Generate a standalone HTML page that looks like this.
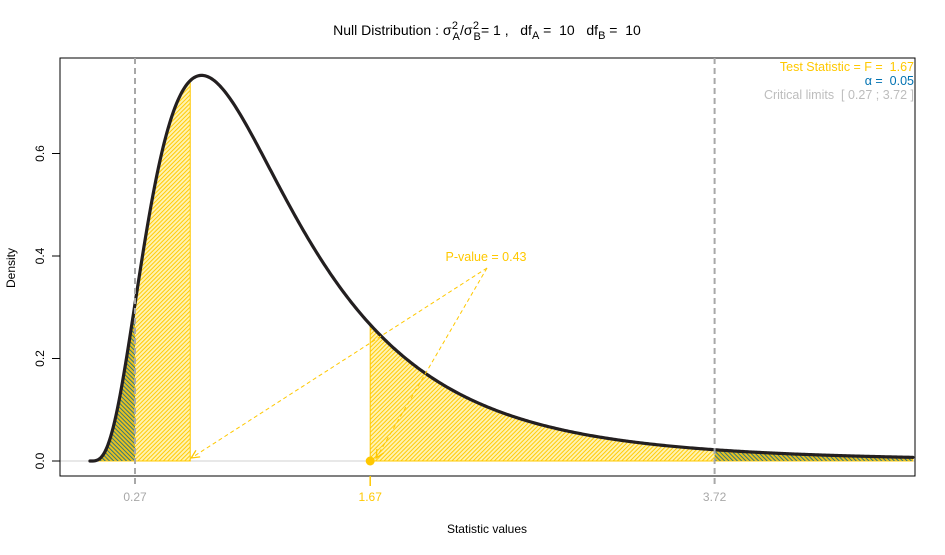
<!DOCTYPE html>
<html><head><meta charset="utf-8">
<style>
body{margin:0;background:#fff;}
svg{font-family:"Liberation Sans",Arial,sans-serif;}
text{white-space:pre;}
</style></head>
<body>
<svg id="chart" width="945" height="550" xml:space="preserve">
<defs>
<pattern id="hatchY" width="3" height="3" patternUnits="userSpaceOnUse" patternTransform="rotate(45)">
<rect width="3" height="3" fill="#fff3b0"/>
<line x1="0" y1="0" x2="0" y2="3" stroke="#ffc800" stroke-width="1.9"/>
</pattern>
<pattern id="hatchG" width="3" height="3" patternUnits="userSpaceOnUse" patternTransform="rotate(-45)">
<rect width="3" height="3" fill="#e8c020"/>
<line x1="0" y1="0" x2="0" y2="3" stroke="#1a6f8a" stroke-width="1.8"/>
</pattern>
<clipPath id="plotclip"><rect x="60" y="58" width="855" height="418"/></clipPath>
</defs>
<text x="487" y="35" font-size="14" text-anchor="middle">Null Distribution : σ<tspan dx="1" dy="5" font-size="11">A</tspan><tspan dx="-8" dy="-11" font-size="11">2</tspan><tspan dx="2" dy="6">/σ</tspan><tspan dx="1" dy="5" font-size="11">B</tspan><tspan dx="-8" dy="-11" font-size="11">2</tspan><tspan dx="2" dy="6">= 1 ,   df</tspan><tspan dy="4" font-size="11">A</tspan><tspan dy="-4"> =  10   df</tspan><tspan dy="4" font-size="11">B</tspan><tspan dy="-4"> =  10</tspan></text>
<g id="plot" clip-path="url(#plotclip)"></g>
<rect x="60" y="58" width="855" height="418" fill="none" stroke="#000" stroke-width="1"/>
<g id="axes"></g>
<text x="487" y="533" font-size="12" text-anchor="middle">Statistic values</text>
<text x="15" y="268" font-size="12" text-anchor="middle" transform="rotate(-90 15 268)">Density</text>
<text x="914" y="71" font-size="12.5" text-anchor="end" fill="#ffc800">Test Statistic = F =  1.67</text>
<text x="914" y="85" font-size="12.5" text-anchor="end" fill="#0072b2">α =  0.05</text>
<text x="914" y="99" font-size="12.5" text-anchor="end" fill="#bdbdbd">Critical limits  [ 0.27 ; 3.72 ]</text>
</svg>
<script>
const dfA = 10;
const dfB = 10;
const testStat = [1.67];
const critLimits = [0.27, 3.72];
const pValue = [0.43];
const yTicks = [0.0, 0.2, 0.4, 0.6];
const yTickLabels = ["0.0", "0.2", "0.4", "0.6"];
const xRange = [0.002, 4.9];

const NS = "http://www.w3.org/2000/svg";
const sx = v => 135 + (v - 0.27) * 168;
const sy = d => 461 - d * 512.5;
function lgamma(z){
  const g=7,c=[0.99999999999980993,676.5203681218851,-1259.1392167224028,771.32342877765313,-176.61502916214059,12.507343278686905,-0.13857109526572012,9.9843695780195716e-6,1.5056327351493116e-7];
  z-=1;let x=c[0];for(let i=1;i<g+2;i++)x+=c[i]/(z+i);const t=z+g+0.5;
  return 0.5*Math.log(2*Math.PI)+(z+0.5)*Math.log(t)-t+Math.log(x);
}
function fdens(x){
  const a=dfA/2,b=dfB/2;
  const lb=lgamma(a)+lgamma(b)-lgamma(a+b);
  return Math.exp(a*Math.log(dfA/dfB)+(a-1)*Math.log(x)-(a+b)*Math.log(1+dfA*x/dfB)-lb);
}
function mk(tag, attrs, parent){
  const el=document.createElementNS(NS,tag);
  for(const k in attrs) el.setAttribute(k,attrs[k]);
  parent.appendChild(el); return el;
}
function areaPath(a,b){
  let d=`M${sx(a)},${sy(0)}`;
  const n=200;
  for(let i=0;i<=n;i++){const x=a+(b-a)*i/n;d+=` L${sx(x).toFixed(2)},${sy(fdens(x)).toFixed(2)}`;}
  d+=` L${sx(b)},${sy(0)} Z`; return d;
}
const plot=document.getElementById('plot');
const axes=document.getElementById('axes');
const F=testStat[0];
const lowP=Math.min(F,1/F), highP=Math.max(F,1/F);

let el=mk('line',{x1:60,x2:915,y1:sy(0),y2:sy(0),stroke:'#d0d0d0','stroke-width':1},plot);



el=mk('path',{d:areaPath(xRange[0],lowP),fill:'url(#hatchY)',stroke:'#ffc800','stroke-width':1},plot);


el=mk('path',{d:areaPath(highP,xRange[1]),fill:'url(#hatchY)',stroke:'#ffc800','stroke-width':1},plot);


el=mk('path',{d:areaPath(xRange[0],critLimits[0]),fill:'url(#hatchG)',stroke:'none'},plot);


el=mk('path',{d:areaPath(critLimits[1],xRange[1]),fill:'url(#hatchG)',stroke:'none'},plot);



critLimits.forEach((c)=>{
  const l=mk('line',{x1:sx(c),x2:sx(c),y1:58,y2:486,stroke:'#a8a8a8','stroke-width':2,'stroke-dasharray':'6,4'},axes);
  
  
});

let d='';
for(let i=0;i<=600;i++){const x=xRange[0]+(xRange[1]-xRange[0])*i/600;d+=(i?' L':'M')+sx(x).toFixed(2)+','+sy(fdens(x)).toFixed(2);}
el=mk('path',{d:d,fill:'none',stroke:'#231f20','stroke-width':3.2,'stroke-linecap':'round'},plot);



const ax=487, ay=268;
[[sx(lowP)+1,sy(0)-3],[sx(F)+6,sy(0)-3]].forEach(([tx,ty])=>{
  const a=mk('line',{x1:ax,y1:ay,x2:tx,y2:ty,stroke:'#ffc800','stroke-width':1,'stroke-dasharray':'4,3'},plot);
  
  
  const ang=Math.atan2(ty-ay,tx-ax),L=9;
  const h=mk('path',{d:`M${tx-L*Math.cos(ang-0.45)},${ty-L*Math.sin(ang-0.45)} L${tx},${ty} L${tx-L*Math.cos(ang+0.45)},${ty-L*Math.sin(ang+0.45)}`,fill:'none',stroke:'#ffc800','stroke-width':1.3},plot);
  
  
});
el=mk('text',{x:486,y:261,'font-size':12.5,'text-anchor':'middle',fill:'#ffc800'},plot);
el.textContent='P-value = '+pValue[0];


el=mk('circle',{cx:sx(F),cy:sy(0),r:4.5,fill:'#ffc800'},plot);



yTicks.forEach((t,i)=>{
  const tk=mk('line',{x1:52,x2:60,y1:sy(t),y2:sy(t),stroke:'#000'},axes);
  
  
  const lb=mk('text',{x:44,y:sy(t),'font-size':12,'text-anchor':'middle',transform:`rotate(-90 44 ${sy(t)})`},axes);
  lb.textContent=yTickLabels[i];
  
  
});
const xt=[critLimits[0],F,critLimits[1]];
const xc=['#a8a8a8','#ffc800','#a8a8a8'];
xt.forEach((t,i)=>{
  const tk=mk('line',{x1:sx(t),x2:sx(t),y1:476,y2:486,stroke:xc[i],'stroke-width':i===1?1.5:0},axes);
  
  
  const lb=mk('text',{x:sx(t),y:501,'font-size':12,'text-anchor':'middle',fill:xc[i]},axes);
  lb.textContent=t.toFixed(2);
  
  
});
</script>
</body></html>
